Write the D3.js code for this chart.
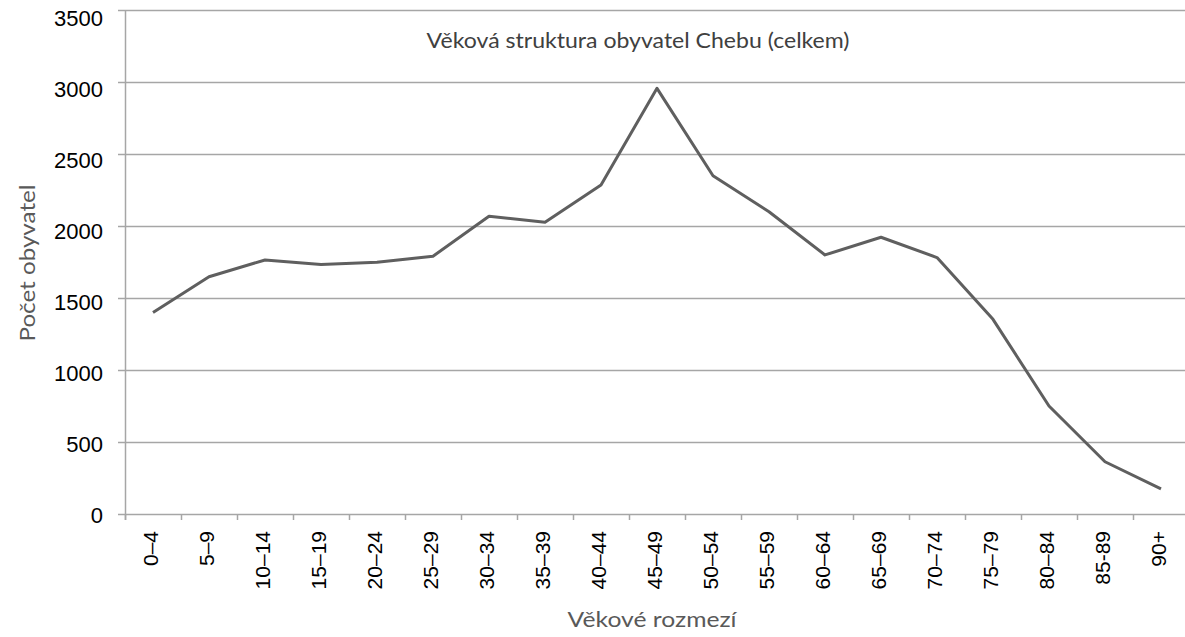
<!DOCTYPE html>
<html>
<head>
    <meta charset="utf-8">
    <title>Věková struktura obyvatel Chebu</title>
    <script src="https://d3js.org/d3.v7.min.js"></script>
    <style>
        body, html {
            margin: 0;
            padding: 0;
            background: #fff;
        }
        svg {
            display: block;
        }
        .tick-label {
            font-family: "Liberation Sans", Arial, sans-serif;
            fill: #000;
        }
        .caption {
            font-family: Lato, "Open Sans", sans-serif;
        }
    </style>
</head>
<body>
    <svg></svg>

    <script>
        // Age groups and population counts
        const ageGroups = ["0–4", "5–9", "10–14", "15–19", "20–24", "25–29", "30–34", "35–39",
            "40–44", "45–49", "50–54", "55–59", "60–64", "65–69", "70–74", "75–79",
            "80–84", "85-89", "90+"];
        const population = [1400, 1648, 1764, 1733, 1748, 1790, 2068, 2026,
            2285, 2956, 2349, 2099, 1799, 1922, 1781, 1352,
            750, 363, 174];
        const yTicks = [0, 500, 1000, 1500, 2000, 2500, 3000, 3500];

        const width = 1185;
        const height = 637;

        const svg = d3.select("svg")
            .attr("width", width)
            .attr("height", height);

        // Plot area (the right edge runs past the picture, as in the original)
        const plotLeft = 125, plotTop = 10, plotBottom = 514;
        const step = 56;

        const x = d3.scaleBand()
            .domain(ageGroups)
            .range([plotLeft, plotLeft + step * ageGroups.length])
            .padding(0);

        const y = d3.scaleLinear()
            .domain([0, 3500])
            .range([plotBottom, plotTop]);

        const gridColor = "#a6a6a6";

        // Horizontal grid lines with small ticks left of the axis
        svg.append("g")
            .selectAll("line")
            .data(yTicks)
            .enter().append("line")
            .attr("x1", plotLeft - 7)
            .attr("x2", width)
            .attr("y1", d => Math.round(y(d)) + 0.5)
            .attr("y2", d => Math.round(y(d)) + 0.5)
            .attr("stroke", gridColor)
            .attr("stroke-width", 1.5);

        // Y axis line
        svg.append("line")
            .attr("x1", plotLeft + 0.5).attr("x2", plotLeft + 0.5)
            .attr("y1", plotTop).attr("y2", plotBottom + 6)
            .attr("stroke", gridColor)
            .attr("stroke-width", 1.5);

        // Y tick labels (the original drifts slightly below its grid lines further up)
        svg.append("g")
            .selectAll("text")
            .data(yTicks)
            .enter().append("text")
            .attr("class", "tick-label")
            .attr("x", plotLeft - 22)
            .attr("y", d => y(d) + 1.5 + d / 3500 * 7)
            .attr("dy", "0.36em")
            .attr("text-anchor", "end")
            .style("font-size", "22px")
            .text(d => d);

        // X ticks at band boundaries
        const boundaries = ageGroups.map(d => x(d)).concat([x.range()[1]]);
        svg.append("g")
            .selectAll("line")
            .data(boundaries)
            .enter().append("line")
            .attr("x1", d => Math.round(d) + 0.5)
            .attr("x2", d => Math.round(d) + 0.5)
            .attr("y1", plotBottom)
            .attr("y2", plotBottom + 6)
            .attr("stroke", gridColor)
            .attr("stroke-width", 1.5);

        // X tick labels, rotated
        svg.append("g")
            .selectAll("text")
            .data(ageGroups)
            .enter().append("text")
            .attr("class", "tick-label")
            .attr("transform", d => `translate(${x(d) + x.bandwidth() / 2 - 3},${plotBottom + 17}) rotate(-90)`)
            .attr("dy", "0.36em")
            .attr("text-anchor", "end")
            .style("font-size", "21px")
            .text(d => d);

        // Data line
        const line = d3.line()
            .x((d, i) => x(ageGroups[i]) + x.bandwidth() / 2)
            .y(d => y(d));

        svg.append("path")
            .datum(population)
            .attr("d", line)
            .attr("fill", "none")
            .attr("stroke", "#5f5f5f")
            .attr("stroke-width", 3)
            .attr("stroke-linejoin", "round");

        // Title
        svg.append("text")
            .attr("class", "caption")
            .attr("x", 638)
            .attr("y", 48)
            .attr("text-anchor", "middle")
            .attr("textLength", 423)
            .attr("lengthAdjust", "spacingAndGlyphs")
            .style("font-size", "22px")
            .style("fill", "#404040")
            .text("Věková struktura obyvatel Chebu (celkem)");

        // Axis titles
        svg.append("text")
            .attr("class", "caption")
            .attr("x", 652)
            .attr("y", 627)
            .attr("text-anchor", "middle")
            .attr("textLength", 169)
            .attr("lengthAdjust", "spacingAndGlyphs")
            .style("font-size", "22px")
            .style("fill", "#595959")
            .text("Věkové rozmezí");

        svg.append("text")
            .attr("class", "caption")
            .attr("transform", "translate(35,263) rotate(-90)")
            .attr("text-anchor", "middle")
            .attr("textLength", 157)
            .attr("lengthAdjust", "spacingAndGlyphs")
            .style("font-size", "22px")
            .style("fill", "#595959")
            .text("Počet obyvatel");
    </script>
</body>
</html>
